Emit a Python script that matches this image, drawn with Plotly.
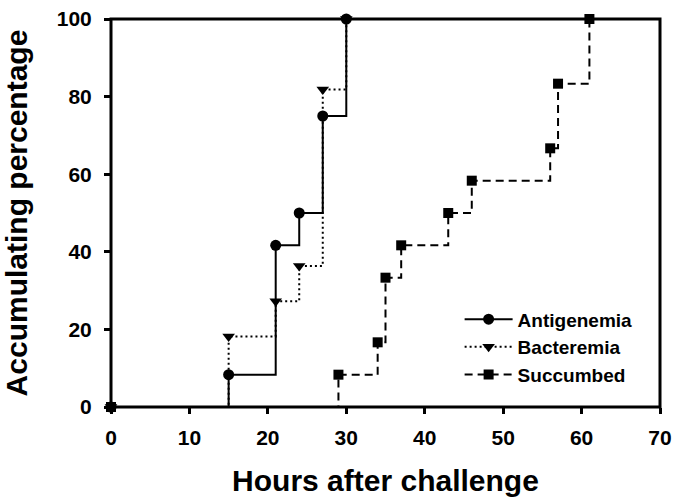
import plotly.graph_objects as go

# Data
anti_x = [0, 15, 21, 24, 27, 30]
anti_y = [0, 8.33, 41.67, 50.0, 75.0, 100.0]
bact_x = [0, 15, 21, 24, 27, 30]
bact_y = [0, 18.18, 27.27, 36.36, 81.82, 100.0]
succ_x = [0, 29, 34, 35, 37, 43, 46, 56, 57, 61]
succ_y = [0, 8.33, 16.67, 33.33, 41.67, 50.0, 58.33, 66.67, 83.33, 100.0]
x_ticks = [0, 10, 20, 30, 40, 50, 60, 70]
y_ticks = [0, 20, 40, 60, 80, 100]

FONT = "Liberation Sans, Arial, sans-serif"

fig = go.Figure()
fig.add_trace(go.Scatter(
    x=succ_x, y=succ_y, name="<b>Succumbed</b>", mode="lines+markers",
    line=dict(shape="hv", color="black", width=2, dash="8px,5px"),
    marker=dict(symbol="square", size=10, color="black"),
    cliponaxis=False, legendrank=3))
fig.add_trace(go.Scatter(
    x=bact_x, y=bact_y, name="<b>Bacteremia</b>", mode="lines+markers",
    line=dict(shape="hv", color="black", width=2, dash="2px,3px"),
    marker=dict(symbol="triangle-down", size=11, color="black"),
    cliponaxis=False, legendrank=2))
fig.add_trace(go.Scatter(
    x=anti_x, y=anti_y, name="<b>Antigenemia</b>", mode="lines+markers",
    line=dict(shape="hv", color="black", width=2),
    marker=dict(symbol="circle", size=11, color="black"),
    cliponaxis=False, legendrank=1))

axis_common = dict(
    showline=False, automargin=False,
    ticks="outside", ticklen=6, tickwidth=2.5, tickcolor="black",
    showgrid=False, zeroline=False,
    tickfont=dict(family=FONT, size=21, color="black"),
)

fig.update_xaxes(range=[0, 70], tickvals=x_ticks,
                 ticktext=[f"<b>{v}</b>" for v in x_ticks],
                 ticklabelstandoff=6,
                 title=dict(text="<b>Hours after challenge</b>", standoff=21,
                            font=dict(family=FONT, size=30, color="black")),
                 **axis_common)
fig.update_yaxes(range=[0, 100], tickvals=y_ticks,
                 ticktext=[f"<b>{v}</b>" for v in y_ticks],
                 ticklabelstandoff=8,
                 title=dict(text="<b>Accumulating percentage</b>", standoff=22,
                            font=dict(family=FONT, size=30, color="black")),
                 **axis_common)

# frame drawn on the plot-area edges, above the data lines
fig.add_shape(type="rect", xref="paper", yref="paper", x0=0, y0=0, x1=1, y1=1,
              line=dict(color="black", width=3), layer="above")

fig.update_layout(
    width=678, height=500,
    margin=dict(l=111, r=17.5, t=19, b=93.3, autoexpand=False),
    paper_bgcolor="white", plot_bgcolor="white",
    font=dict(family=FONT, color="black"),
    legend=dict(x=0.635, y=0.275, xanchor="left", yanchor="top",
                traceorder="normal", bgcolor="rgba(0,0,0,0)",
                font=dict(family=FONT, size=19, color="black"),
                tracegroupgap=0, itemwidth=48),
    showlegend=True,
)

fig.write_html("out.html")
